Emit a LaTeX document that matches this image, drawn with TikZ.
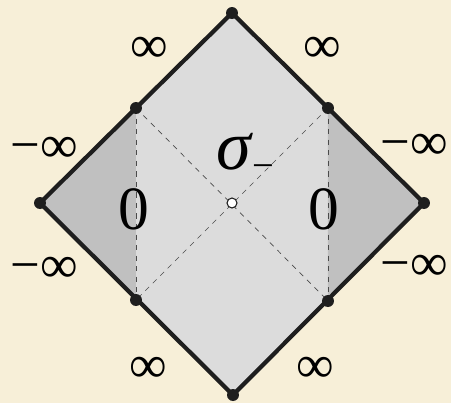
\documentclass[tikz,border=0pt]{standalone}
\usepackage{fontspec}
\setmainfont{Liberation Serif}
\definecolor{parch}{RGB}{247,239,216}
\definecolor{lightreg}{RGB}{220,220,220}
\definecolor{darkreg}{RGB}{192,192,192}
\definecolor{edge}{RGB}{30,30,30}
\begin{document}
\begin{tikzpicture}[x=0.02cm, y=-0.02cm,
  rim/.style={draw=edge, line width=2.4pt, line join=miter},
  guide/.style={draw=edge!80, dashed, line width=0.4pt},
  vdot/.style={circle, fill=edge, inner sep=0pt, minimum size=0.24cm},
  odot/.style={circle, draw=edge, fill=white, line width=0.6pt, inner sep=0pt, minimum size=0.2cm},
  inflab/.style={font=\fontsize{30}{32}\selectfont, inner sep=0pt},
  zerolab/.style={font=\fontsize{35}{37}\selectfont, inner sep=0pt}
]
\fill[parch] (0,0) rectangle (451,403);
\useasboundingbox (0,0) rectangle (451,403);

\coordinate (top) at (232,13);
\coordinate (left) at (40,203);
\coordinate (right) at (424,203);
\coordinate (bot) at (233,395);
\coordinate (ul) at (136,108);
\coordinate (ur) at (328,108);
\coordinate (ll) at (136,300);
\coordinate (lr) at (328,301);
\coordinate (mid) at (232,203);

\fill[lightreg] (top) -- (ur) -- (lr) -- (bot) -- (ll) -- (ul) -- cycle;
\fill[darkreg] (left) -- (ul) -- (ll) -- cycle;
\fill[darkreg] (right) -- (ur) -- (lr) -- cycle;

\draw[guide] (ul) -- (ll);
\draw[guide] (ur) -- (lr);
\draw[guide] (ul) -- (lr);
\draw[guide] (ur) -- (ll);

\draw[rim] (top) -- (right) -- (bot) -- (left) -- cycle;

\foreach \p in {top,left,right,bot,ul,ur,ll,lr}
  \node[vdot] at (\p) {};
\node[odot] (o) at (mid) {};

\node[inflab] (itl) at (149,50) {∞};
\node[inflab] (itr) at (322,50) {∞};
\node[inflab] (ibl) at (148,370) {∞};
\node[inflab] (ibr) at (315,370) {∞};
\node[inflab] (mlu) at (44,150) {−∞};
\node[inflab] (mll) at (44,270) {−∞};
\node[inflab] (mru) at (414,147) {−∞};
\node[inflab] (mrl) at (414,268) {−∞};

\node[zerolab] (zl) at (134,209) {0};
\node[zerolab] (zr) at (324,209) {0};
\node[font=\fontsize{40}{42}\selectfont\itshape, inner sep=0pt] (sig) at (234,152) {σ};
\node[font=\fontsize{22}{24}\selectfont, inner sep=0pt] (sub) at (263,172) {−};
\end{tikzpicture}
\end{document}
